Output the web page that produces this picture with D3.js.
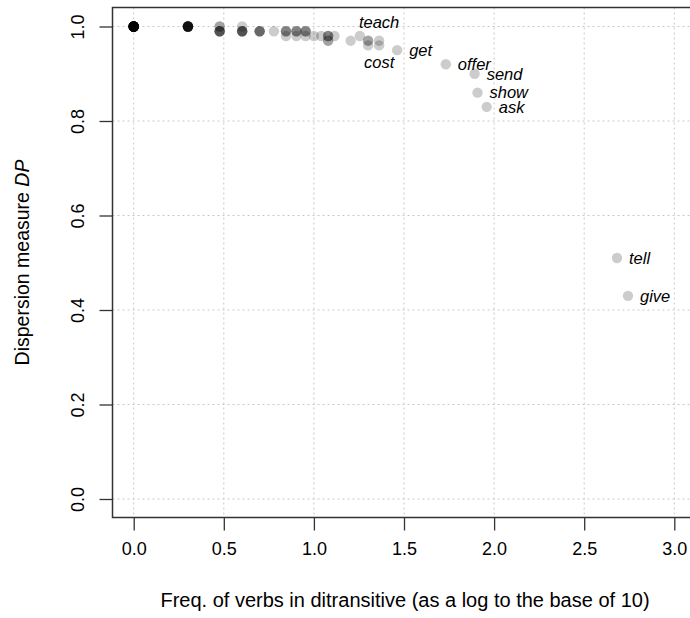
<!DOCTYPE html>
<html>
<head>
<meta charset="utf-8">
<script src="https://cdn.jsdelivr.net/npm/d3@7"></script>
<style>
  body { margin: 0; background: #fff; }
  svg { display: block; font-family: "Liberation Sans", Arial, Helvetica, sans-serif; }
</style>
</head>
<body>
<svg id="chart" width="690" height="618"></svg>
<script>
// log10 frequency of each verb in the ditransitive, its DP value, and how many verbs share that spot
const verbFreq = [0, 0.301, 0.477, 0.477, 0.602, 0.602, 0.699, 0.778, 0.845, 0.845, 0.903, 0.903,
  0.954, 0.954, 1.0, 1.041, 1.079, 1.079, 1.114, 1.204, 1.255, 1.301, 1.301, 1.362, 1.362,
  1.462, 1.732, 1.892, 1.908, 1.959, 2.682, 2.743];
const dpValues = [1.0, 1.0, 1.0, 0.99, 1.0, 0.99, 0.99, 0.99, 0.99, 0.98, 0.99, 0.98,
  0.99, 0.98, 0.98, 0.98, 0.98, 0.97, 0.98, 0.97, 0.98, 0.97, 0.96, 0.97, 0.96,
  0.95, 0.92, 0.90, 0.86, 0.83, 0.51, 0.43];
const verbCounts = [25, 12, 2, 5, 1, 5, 4, 1, 3, 1, 3, 1,
  3, 1, 1, 1, 3, 2, 1, 1, 1, 2, 1, 1, 1,
  1, 1, 1, 1, 1, 1, 1];

// labelled verbs
const labelWords = ["teach", "cost", "get", "offer", "send", "show", "ask", "tell", "give"];
const labelFreq = [1.362, 1.362, 1.462, 1.732, 1.892, 1.908, 1.959, 2.682, 2.743];
const labelDp = [0.97, 0.96, 0.95, 0.92, 0.90, 0.86, 0.83, 0.51, 0.43];
const labelSide = ["above", "below", "right", "right", "right", "right", "right", "right", "right"];

const xTicks = [0, 0.5, 1, 1.5, 2, 2.5, 3];
const yTicks = [0, 0.2, 0.4, 0.6, 0.8, 1.0];

const svg = d3.select("#chart");
const box = { left: 112.5, top: 7.5, right: 698, bottom: 517.5 };

const x = d3.scaleLinear().domain([0, 3]).range([133.7, 674.3]);
const y = d3.scaleLinear().domain([0, 1]).range([499, 26.5]);

// grid
svg.append("g").selectAll("line").data(xTicks).join("line")
  .attr("x1", d => x(d)).attr("x2", d => x(d))
  .attr("y1", box.top).attr("y2", box.bottom)
  .attr("stroke", "#c8c8c8").attr("stroke-dasharray", "2,3");
svg.append("g").selectAll("line").data(yTicks).join("line")
  .attr("x1", box.left).attr("x2", box.right)
  .attr("y1", d => y(d)).attr("y2", d => y(d))
  .attr("stroke", "#c8c8c8").attr("stroke-dasharray", "2,3");

// points, one circle per verb
const pts = [];
verbFreq.forEach((f, i) => {
  for (let k = 0; k < verbCounts[i]; k++) pts.push({ f: f, dp: dpValues[i] });
});
svg.append("g").selectAll("circle").data(pts).join("circle")
  .attr("cx", d => x(d.f))
  .attr("cy", d => y(d.dp))
  .attr("r", 5.2)
  .attr("fill", "#000")
  .attr("fill-opacity", 0.2);

// labels
svg.append("g").selectAll("text").data(labelWords).join("text")
  .attr("x", (d, i) => labelSide[i] == "right" ? x(labelFreq[i]) + 12 : x(labelFreq[i]))
  .attr("y", (d, i) => {
    let py = y(labelDp[i]);
    if (labelSide[i] == "above") return py - 18;
    if (labelSide[i] == "below") return py + 17;
    return py;
  })
  .attr("dy", "0.35em")
  .attr("text-anchor", (d, i) => labelSide[i] == "right" ? "start" : "middle")
  .attr("font-size", 16.5)
  .attr("font-style", "italic")
  .attr("fill", "#000")
  .text(d => d);

// axes
const xAxis = svg.append("g")
  .attr("transform", "translate(0," + box.bottom + ")")
  .call(d3.axisBottom(x).tickValues(xTicks).tickFormat(d3.format(".1f")).tickSizeOuter(0).tickSize(13).tickPadding(12));
xAxis.select(".domain").remove();
xAxis.selectAll("line").attr("stroke", "#333").attr("stroke-width", 1.3);
xAxis.selectAll("text").attr("font-size", 18).attr("fill", "#000").attr("font-family", null);

const yAxis = svg.append("g")
  .attr("transform", "translate(" + box.left + ",0)")
  .call(d3.axisLeft(y).tickValues(yTicks).tickFormat(d3.format(".1f")).tickSizeOuter(0).tickSize(13));
yAxis.select(".domain").remove();
yAxis.selectAll("line").attr("stroke", "#333").attr("stroke-width", 1.3);
// tick groups are already moved to y(d); only shift left and turn
yAxis.selectAll("text")
  .attr("font-size", 18).attr("fill", "#000").attr("font-family", null)
  .attr("x", 0).attr("y", 0).attr("dy", null)
  .attr("text-anchor", "middle")
  .attr("dominant-baseline", "central")
  .attr("transform", "translate(-35,0) rotate(-90)");

// box (right side runs off the picture)
svg.append("path")
  .attr("d", `M${box.right},${box.top}H${box.left}V${box.bottom}H${box.right}`)
  .attr("fill", "none").attr("stroke", "#333").attr("stroke-width", 1.5);

// titles
svg.append("text")
  .attr("x", 405).attr("y", 600).attr("dy", "0.35em")
  .attr("text-anchor", "middle").attr("font-size", 20)
  .text("Freq. of verbs in ditransitive (as a log to the base of 10)");

const yt = svg.append("text")
  .attr("transform", "translate(22," + ((box.top + box.bottom) / 2) + ") rotate(-90)")
  .attr("dy", "0.35em")
  .attr("text-anchor", "middle").attr("font-size", 19.5);
yt.append("tspan").text("Dispersion measure ");
yt.append("tspan").attr("font-style", "italic").text("DP");
</script>
</body>
</html>
